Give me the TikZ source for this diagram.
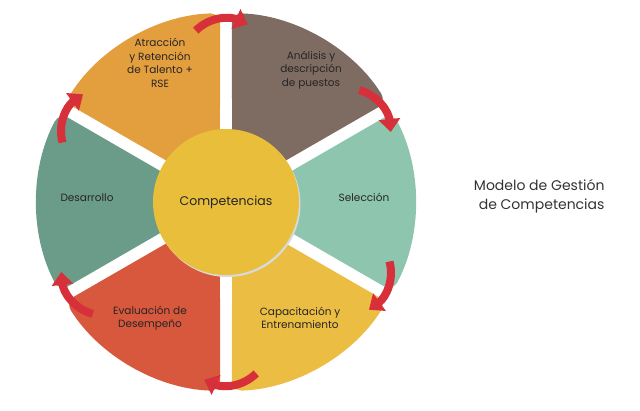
\documentclass[tikz,border=0pt]{standalone}
\usepackage{fontspec}
\setmainfont{Poppins}
\usetikzlibrary{arrows.meta}
\definecolor{cA}{HTML}{E39E3E}
\definecolor{cB}{HTML}{7E6B62}
\definecolor{cC}{HTML}{8DC5AF}
\definecolor{cD}{HTML}{EBBD42}
\definecolor{cE}{HTML}{D7583C}
\definecolor{cF}{HTML}{6B9B89}
\definecolor{cM}{HTML}{E8BE3B}
\definecolor{cR}{HTML}{D8303A}
\begin{document}
\begin{tikzpicture}[x=1pt,y=1pt,
  lbl/.style={align=center,font=\fontsize{10.5}{13.5}\selectfont,text=black!85},
  redarrow/.style={cR,line width=8pt,-{Triangle[length=13pt,width=21pt]}}]
\useasboundingbox (0,0) rectangle (640,410);
\coordinate (O) at (226,208);
\def\R{189}\def\r{55}
\foreach \a/\c in {90/cA,30/cB,-30/cC,-90/cD,-150/cE,150/cF}{
  \pgfmathsetmacro\b{\a+60}
  \fill[\c,rounded corners=10pt,shift={(O)}]
    ({\b-1.8}:\R) arc[start angle=\b-1.8,end angle=\a+1.8,radius=\R]
    -- ({\a+6.3}:\r) -- ({\b-6.3}:\r) -- cycle;
}
\fill[black!15,shift={(O)}] (1.5,-2) circle (73);
\fill[cM] (O) circle (73);
\node[lbl,font=\fontsize{12.5}{15}\selectfont] (m) at (O) {Competencias};
\foreach \g in {90,30,-30,-90,-150,150}{
  \draw[redarrow,shift={(O)}] ({\g+10}:174) .. controls ({\g+5}:186) and ({\g-1}:186) .. ({\g-7}:179);
}
\node[lbl] (a) at (160,347) {Atracción\\y Retención\\de Talento +\\RSE};
\node[lbl] (b) at (311,340) {Análisis y\\descripción\\de puestos};
\node[lbl] (c) at (364,213) {Selección};
\node[lbl] (d) at (300,92) {Capacitación y\\Entrenamiento};
\node[lbl] (e) at (150,92) {Evaluación de\\Desempeño};
\node[lbl] (f) at (87,212) {Desarrollo};
\node[align=right,anchor=east,font=\fontsize{14}{19}\selectfont,text=black!80] (t) at (608,214) {Modelo de Gestión\\de Competencias};
\end{tikzpicture}
\end{document}
